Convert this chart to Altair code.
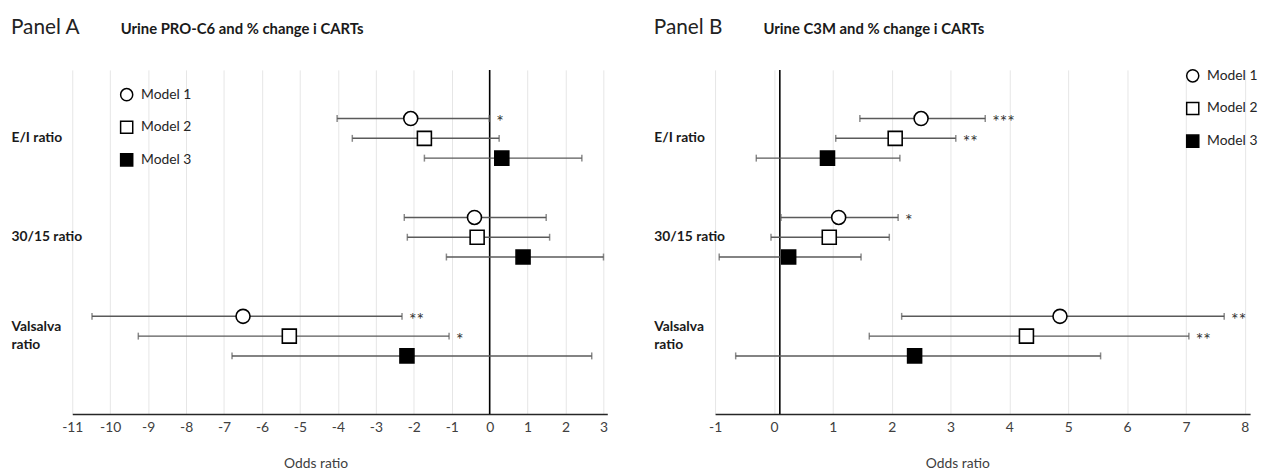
import altair as alt
import pandas as pd

models = ["Model 1", "Model 2", "Model 3"]
outcomes = ["E/I ratio", "30/15 ratio", "Valsalva ratio"]

# Panel A: Urine PRO-C6 (rows: E/I M1..M3, 30/15 M1..M3, Valsalva M1..M3)
a_est = [-2.08, -1.72, 0.32, -0.40, -0.33, 0.88, -6.50, -5.28, -2.18]
a_lo = [-4.02, -3.62, -1.72, -2.25, -2.17, -1.14, -10.48, -9.26, -6.79]
a_hi = [-0.01, 0.25, 2.43, 1.49, 1.58, 3.00, -2.31, -1.07, 2.69]
a_sig = ["*", "", "", "", "", "", "**", "*", ""]

# Panel B: Urine C3M
b_est = [2.50, 2.06, 0.91, 1.10, 0.94, 0.25, 4.86, 4.29, 2.39]
b_lo = [1.46, 1.05, -0.30, 0.12, -0.05, -0.93, 2.17, 1.62, -0.65]
b_hi = [3.59, 3.09, 2.14, 2.11, 1.96, 1.48, 7.65, 7.05, 5.55]
b_sig = ["***", "**", "", "*", "", "", "**", "**", ""]

a_ticks = list(range(-11, 4))
b_ticks = list(range(-1, 9))

FONT = "Lato"


def build_df(est, lo, hi, sig):
    rows = []
    for i, o in enumerate(outcomes):
        for j, m in enumerate(models):
            k = i * 3 + j
            rows.append(dict(outcome=o, model=m, est=est[k], lo=lo[k], hi=hi[k], sig=sig[k]))
    return pd.DataFrame(rows)


def panel(df, domain, ticks, ref, t_left, t_main, leg_x, leg_y, title_x):
    xscale = alt.Scale(domain=domain, nice=False, zero=False)
    xaxis = alt.Axis(
        values=ticks, title="Odds ratio", titleFont=FONT, titleFontSize=14,
        titleFontWeight="normal", titleColor="#404040", titleX=title_x, titleY=54,
        titleAlign="center", titleBaseline="alphabetic",
        grid=True, gridColor="#e6e6e6", gridWidth=1, ticks=False, tickSize=0,
        domainColor="#262626", domainWidth=1.6, labelFont=FONT, labelFontSize=14,
        labelColor="#404040", labelPadding=7, labelFlush=False, labelOverlap=False,
        labelExpr="'' + datum.value",
    )
    yaxis = alt.Axis(
        title=None, domain=False, ticks=False, tickSize=0, grid=False,
        labelAlign="left", labelPadding=62, labelFont=FONT, labelFontSize=14,
        labelFontWeight="bold", labelColor="#1a1a1a", labelBaseline="middle",
        labelLimit=0, labelLineHeight=19,
        labelOffset={"condition": {"test": "datum.label == 'Valsalva ratio'", "value": -9.5},
                     "value": 0},
        labelExpr="datum.label == 'Valsalva ratio' ? ['Valsalva', '\u00a0\u00a0ratio'] : datum.label",
    )
    yenc = alt.Y("outcome:N", sort=outcomes,
                 scale=alt.Scale(domain=outcomes, paddingInner=0, paddingOuter=0.24, align=0.4),
                 axis=yaxis)
    yoff = alt.YOffset("model:N", sort=models,
                       scale=alt.Scale(domain=models, paddingInner=0, paddingOuter=1))

    def X(field):
        return alt.X(field, type="quantitative", scale=xscale, axis=xaxis)

    leg = alt.Legend(
        title=None, orient="none", legendX=leg_x, legendY=leg_y, symbolSize=150,
        symbolStrokeColor="black", symbolStrokeWidth=1.5, labelFont=FONT,
        labelFontSize=14, labelColor="#262626", rowPadding=13, labelOffset=7.5, padding=0,
    )

    base = alt.Chart(df)
    ref_line = alt.Chart(pd.DataFrame({"ref": [ref]})).mark_rule(
        color="black", strokeWidth=1.6).encode(x=X("ref"))
    bars = base.mark_rule(color="#5a5a5a", strokeWidth=1.5).encode(
        x=X("lo"), x2="hi", y=yenc, yOffset=yoff)
    cap_lo = base.mark_tick(color="#5a5a5a", thickness=1.5, size=7, orient="vertical").encode(
        x=X("lo"), y=yenc, yOffset=yoff)
    cap_hi = base.mark_tick(color="#5a5a5a", thickness=1.5, size=7, orient="vertical").encode(
        x=X("hi"), y=yenc, yOffset=yoff)
    pts = base.mark_point(size=200, strokeWidth=1.6, opacity=1, fillOpacity=1).encode(
        x=X("est"), y=yenc, yOffset=yoff,
        shape=alt.Shape("model:N", sort=models,
                        scale=alt.Scale(domain=models, range=["circle", "square", "square"]),
                        legend=leg),
        fill=alt.Fill("model:N", sort=models,
                      scale=alt.Scale(domain=models, range=["white", "white", "black"]),
                      legend=leg),
        stroke=alt.Stroke("model:N", sort=models,
                          scale=alt.Scale(domain=models, range=["black", "black", "black"]),
                          legend=leg),
    )
    stars = base.mark_text(align="left", baseline="middle", dx=7, dy=5, fontSize=18,
                           font=FONT, color="#333333").encode(
        x=X("hi"), y=yenc, yOffset=yoff, text="sig:N")
    t1 = alt.Chart(pd.DataFrame({"t": [t_left]})).mark_text(
        align="left", baseline="alphabetic", font=FONT, fontSize=21, color="#222222").encode(
        text="t:N", x=alt.value(-62), y=alt.value(-36.5))
    t2 = alt.Chart(pd.DataFrame({"t": [t_main]})).mark_text(
        align="left", baseline="alphabetic", font=FONT, fontSize=15, fontWeight="bold",
        color="#1a1a1a").encode(
        text="t:N", x=alt.value(49), y=alt.value(-36.5))

    return alt.layer(ref_line, bars, cap_lo, cap_hi, pts, stars, t1, t2).properties(
        width=541, height=348)


pa = panel(build_df(a_est, a_lo, a_hi, a_sig), [-11, 3.1], a_ticks, 0,
           "Panel A", "Urine PRO-C6 and % change i CARTs", 48, 18, 246)
pb = panel(build_df(b_est, b_lo, b_hi, b_sig), [-1, 8.09], b_ticks, 0.1,
           "Panel B", "Urine C3M and % change i CARTs", 476, -1, 245)

chart = alt.hconcat(pa, pb, spacing=109, bounds="flush").resolve_scale(
    shape="independent", fill="independent", stroke="independent", x="independent"
).resolve_legend(shape="independent", fill="independent", stroke="independent").properties(
    padding={"left": 3, "top": 6, "right": 0, "bottom": 0}
).configure_view(stroke=None)

chart.save("out.html", embed_options={"renderer": "svg", "actions": False})
